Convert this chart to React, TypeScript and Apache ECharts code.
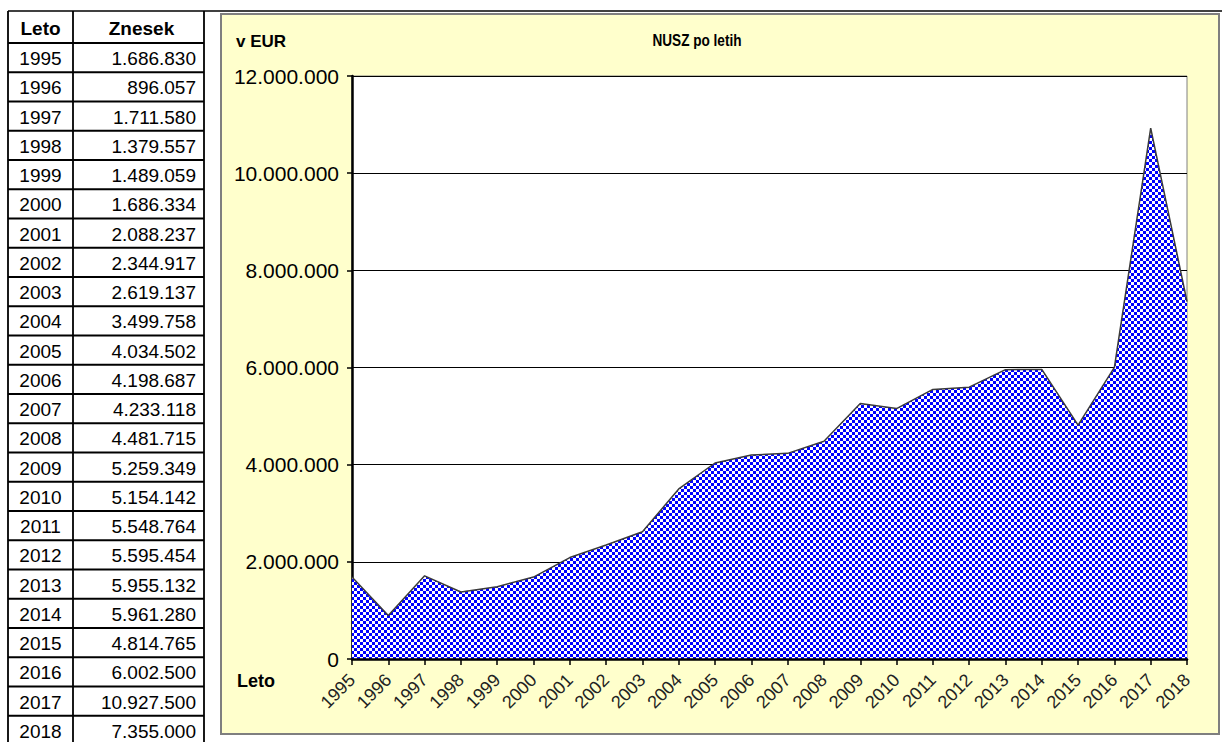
import React, { useEffect, useRef } from "react";
import * as echarts from "echarts";

const years = [
  "1995", "1996", "1997", "1998", "1999", "2000", "2001", "2002", "2003", "2004", "2005", "2006",
  "2007", "2008", "2009", "2010", "2011", "2012", "2013", "2014", "2015", "2016", "2017", "2018",
];
const amounts = [
  1686830, 896057, 1711580, 1379557, 1489059, 1686334, 2088237, 2344917, 2619137, 3499758, 4034502, 4198687,
  4233118, 4481715, 5259349, 5154142, 5548764, 5595454, 5955132, 5961280, 4814765, 6002500, 10927500, 7355000,
];
const tableHeaders = ["Leto", "Znesek"];
const chartTitle = "NUSZ po letih";
const unitLabel = "v EUR";
const xAxisLabel = "Leto";
const yMin = 0;
const yMax = 12000000;
const yStep = 2000000;

function fmt(n: number): string {
  return String(n).replace(/\B(?=(\d{3})+(?!\d))/g, ".");
}

export default function App() {
  const ref = useRef<HTMLDivElement>(null);
  useEffect(() => {
    if (!ref.current) return;
    const chart = echarts.init(ref.current, null, { renderer: "svg" });

    // dotted fill tile
    const tw = 6, th = 6;
    const c = document.createElement("canvas");
    c.width = tw;
    c.height = th;
    const ctx = c.getContext("2d")!;
    ctx.fillStyle = "#ffffff";
    ctx.fillRect(0, 0, tw, th);
    ctx.fillStyle = "#0000ff";
    ctx.fillRect(0, 0, 3, 3);
    ctx.fillRect(3, 3, 3, 3);
    const patternUrl = c.toDataURL();

    // table geometry
    const tL = 8, tD = 73, tR = 204, tTop = 11, hBottom = 43, rowH = 29.25, tBottom = 742;
    const font = "'Liberation Sans', Arial, sans-serif";
    const g: any[] = [];
    g.push({
      type: "rect", z: -10, silent: true,
      shape: { x: 221, y: 14, width: 998, height: 720 },
      style: { fill: "#ffffcc", stroke: "#7f7f7f", lineWidth: 2 },
    });
    g.push({ type: "line", z: 5, shape: { x1: tL, y1: tTop, x2: 1222, y2: tTop }, style: { stroke: "#000", lineWidth: 1.5 } });
    [tL, tD, tR].forEach((x) =>
      g.push({ type: "line", z: 5, shape: { x1: x, y1: tTop, x2: x, y2: tBottom }, style: { stroke: "#000", lineWidth: 1.8 } })
    );
    const hs = [hBottom];
    for (let i = 1; i <= years.length; i++) hs.push(hBottom + i * rowH);
    hs.forEach((y) => {
      if (y < tBottom)
        g.push({ type: "line", z: 5, shape: { x1: tL, y1: y, x2: tR, y2: y }, style: { stroke: "#000", lineWidth: 1.8 } });
    });
    g.push({
      type: "text", z: 6, x: (tL + tD) / 2, y: (tTop + hBottom) / 2 + 1,
      style: { text: tableHeaders[0], font: `bold 19px ${font}`, fill: "#000", align: "center", verticalAlign: "middle" },
    });
    g.push({
      type: "text", z: 6, x: (tD + tR) / 2 + 3, y: (tTop + hBottom) / 2 + 1,
      style: { text: tableHeaders[1], font: `bold 19px ${font}`, fill: "#000", align: "center", verticalAlign: "middle" },
    });
    years.forEach((yr, i) => {
      const cy = hBottom + i * rowH + rowH / 2 + 1;
      g.push({
        type: "text", z: 6, x: (tL + tD) / 2, y: cy,
        style: { text: yr, font: `19px ${font}`, fill: "#000", align: "center", verticalAlign: "middle" },
      });
      g.push({
        type: "text", z: 6, x: tR - 8, y: cy,
        style: { text: fmt(amounts[i]), font: `19px ${font}`, fill: "#000", align: "right", verticalAlign: "middle" },
      });
    });
    g.push({
      type: "text", z: 6, x: 236, y: 41,
      style: { text: unitLabel, font: `bold 17px ${font}`, fill: "#000", align: "left", verticalAlign: "middle" },
    });
    g.push({
      type: "text", z: 6, x: 697, y: 41, scaleX: 0.85,
      style: { text: chartTitle, font: `bold 16px ${font}`, fill: "#000", align: "center", verticalAlign: "middle" },
    });
    g.push({
      type: "text", z: 6, x: 237, y: 681,
      style: { text: xAxisLabel, font: `bold 18px ${font}`, fill: "#000", align: "left", verticalAlign: "middle" },
    });

    chart.setOption({
      animation: false,
      backgroundColor: "#ffffff",
      graphic: { elements: g },
      grid: {
        left: 352, top: 76, right: 37, bottom: 83,
        show: true, backgroundColor: "#ffffff", borderColor: "#808080", borderWidth: 1,
      },
      xAxis: {
        type: "category",
        data: years,
        boundaryGap: false,
        z: 4,
        axisLine: { show: true, lineStyle: { color: "#000", width: 2.5 } },
        axisTick: { show: true, length: 6, interval: 0, lineStyle: { color: "#000", width: 1.5 } },
        axisLabel: { interval: 0, rotate: 45, fontSize: 18, fontFamily: font, color: "#222", margin: 18 },
        splitLine: { show: false },
      },
      yAxis: {
        type: "value",
        min: yMin,
        max: yMax,
        interval: yStep,
        axisLine: { show: true, lineStyle: { color: "#000", width: 2.5 } },
        axisTick: { show: true, length: 5, lineStyle: { color: "#000", width: 1.5 } },
        axisLabel: { fontSize: 21, fontFamily: font, color: "#000", margin: 13, formatter: (v: number) => fmt(v) },
        splitLine: { show: true, lineStyle: { color: "#000", width: 1 } },
      },
      series: [
        {
          type: "line",
          data: amounts,
          symbol: "none",
          z: 3,
          lineStyle: { color: "#3a3a3a", width: 1.5 },
          areaStyle: {
            opacity: 1,
            color: { image: patternUrl, repeat: "repeat", imageWidth: tw, imageHeight: th } as any,
          },
        },
      ],
    });
    return () => chart.dispose();
  }, []);
  return <div ref={ref} style={{ position: "absolute", left: 0, top: 0, width: 1224, height: 742 }} />;
}
